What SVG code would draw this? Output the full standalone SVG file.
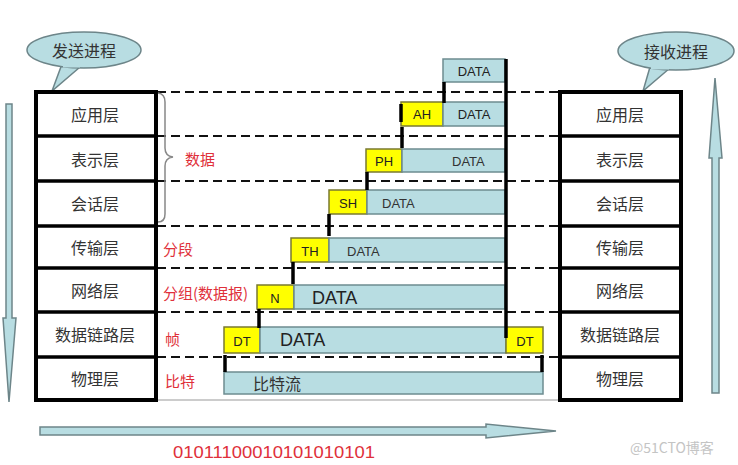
<svg xmlns="http://www.w3.org/2000/svg" width="738" height="465" viewBox="0 0 738 465">
<style>
.lbl{font-family:"Noto Sans CJK SC","Noto Sans",sans-serif;font-size:16px;fill:#333;text-anchor:middle;dominant-baseline:central}
.red{font-family:"Noto Sans CJK SC","Noto Sans",sans-serif;font-size:15px;fill:#e0303a;dominant-baseline:central}
.hd{font-family:"Liberation Sans","Noto Sans",sans-serif;font-size:13px;fill:#222;text-anchor:middle;dominant-baseline:central}
.dt{font-family:"Liberation Sans","Noto Sans",sans-serif;font-size:13px;fill:#333;dominant-baseline:central}
.dtl{font-family:"Liberation Sans","Noto Sans",sans-serif;font-size:18px;fill:#222;dominant-baseline:central}
.data{fill:#b8dde2;stroke:#6d8c90;stroke-width:1.5}
.yel{fill:#ffff00;stroke:#7a7a30;stroke-width:1.5}
.dash{stroke:#111;stroke-width:2;stroke-dasharray:9 5;fill:none}
.blk{stroke:#000;stroke-width:3.5;fill:none}
.frame{fill:#fff;stroke:#000;stroke-width:4}
.arrow{fill:#b8dde2;stroke:#6d8589;stroke-width:1.5}
</style>

<g id="connectors">
  <line class="dash" x1="157" y1="92" x2="559" y2="92"/>
  <line class="dash" x1="157" y1="136" x2="559" y2="136"/>
  <line class="dash" x1="157" y1="181" x2="559" y2="181"/>
  <line class="dash" x1="157" y1="226" x2="559" y2="226"/>
  <line class="dash" x1="157" y1="268" x2="559" y2="268"/>
  <line class="dash" x1="157" y1="312" x2="559" y2="312"/>
  <line class="dash" x1="157" y1="357" x2="559" y2="357"/>
  <line x1="157" y1="400" x2="559" y2="400" stroke="#999" stroke-width="1"/>
</g>

<g id="left-arrow">
  <path class="arrow" d="M6,104 L12,104 L12,318 L16,318 L9,402 L3,318 L6,318 Z"/>
</g>
<g id="right-arrow">
  <path class="arrow" d="M712,393 L719,393 L719,158 L722,158 L715,78 L709,158 L712,158 Z"/>
</g>
<g id="bottom-arrow">
  <path class="arrow" d="M40,427 L486,427 L486,424 L556,431 L486,438 L486,435 L40,435 Z"/>
  <text class="red" x="173" y="452" textLength="202" lengthAdjust="spacingAndGlyphs" style="font-family:'Liberation Sans','Noto Sans',sans-serif;font-size:17px">01011100010101010101</text>
</g>

<g id="send-bubble">
  <path d="M62,64 L52,91 L80,67 Z" fill="#b8dde2" stroke="#6d8589" stroke-width="1.5"/>
  <ellipse cx="84" cy="50" rx="57" ry="18" fill="#b8dde2" stroke="#6d8589" stroke-width="1.5"/>
  <path d="M63,66 L80,66" stroke="#b8dde2" stroke-width="3"/>
  <text class="lbl" x="84" y="50">发送进程</text>
</g>
<g id="recv-bubble">
  <path d="M650,67 L643,91 L670,68 Z" fill="#b8dde2" stroke="#6d8589" stroke-width="1.5"/>
  <ellipse cx="676" cy="51" rx="58" ry="19" fill="#b8dde2" stroke="#6d8589" stroke-width="1.5"/>
  <path d="M651,68 L669,68" stroke="#b8dde2" stroke-width="3"/>
  <text class="lbl" x="676" y="51">接收进程</text>
</g>

<g id="send-stack">
  <rect class="frame" x="36" y="92" width="120" height="308"/>
  <line class="blk" x1="36" y1="136" x2="156" y2="136" stroke-width="4"/>
  <line class="blk" x1="36" y1="181" x2="156" y2="181" stroke-width="4"/>
  <line class="blk" x1="36" y1="226" x2="156" y2="226" stroke-width="4"/>
  <line class="blk" x1="36" y1="268" x2="156" y2="268" stroke-width="4"/>
  <line class="blk" x1="36" y1="312" x2="156" y2="312" stroke-width="4"/>
  <line class="blk" x1="36" y1="357" x2="156" y2="357" stroke-width="4"/>
  <text class="lbl" x="95" y="114">应用层</text>
  <text class="lbl" x="95" y="159">表示层</text>
  <text class="lbl" x="95" y="203">会话层</text>
  <text class="lbl" x="95" y="247">传输层</text>
  <text class="lbl" x="95" y="290">网络层</text>
  <text class="lbl" x="95" y="334">数据链路层</text>
  <text class="lbl" x="95" y="378">物理层</text>
</g>

<g id="recv-stack">
  <rect class="frame" x="560" y="92" width="121" height="308"/>
  <line class="blk" x1="560" y1="136" x2="681" y2="136" stroke-width="4"/>
  <line class="blk" x1="560" y1="181" x2="681" y2="181" stroke-width="4"/>
  <line class="blk" x1="560" y1="226" x2="681" y2="226" stroke-width="4"/>
  <line class="blk" x1="560" y1="268" x2="681" y2="268" stroke-width="4"/>
  <line class="blk" x1="560" y1="312" x2="681" y2="312" stroke-width="4"/>
  <line class="blk" x1="560" y1="357" x2="681" y2="357" stroke-width="4"/>
  <text class="lbl" x="620" y="114">应用层</text>
  <text class="lbl" x="620" y="159">表示层</text>
  <text class="lbl" x="620" y="203">会话层</text>
  <text class="lbl" x="620" y="247">传输层</text>
  <text class="lbl" x="620" y="290">网络层</text>
  <text class="lbl" x="620" y="334">数据链路层</text>
  <text class="lbl" x="620" y="378">物理层</text>
</g>

<g id="brace">
  <path d="M158,93 Q165,94 165,102 L165,148 Q165,156 173,157 Q165,158 165,166 L165,214 Q165,222 158,222" fill="none" stroke="#888" stroke-width="1.5"/>
</g>

<g id="red-labels">
  <text class="red" x="185" y="158">数据</text>
  <text class="red" x="163" y="248">分段</text>
  <text class="red" x="163" y="292">分组(数据报)</text>
  <text class="red" x="165" y="338">帧</text>
  <text class="red" x="165" y="380">比特</text>
</g>

<g id="pdu-app">
  <rect class="data" x="443" y="59" width="62" height="23"/>
  <text class="hd" x="474" y="71" fill="#333">DATA</text>
</g>
<g id="pdu-ah">
  <rect class="yel" x="401" y="102" width="42" height="24"/>
  <text class="hd" x="422" y="114">AH</text>
  <rect class="data" x="443" y="102" width="62" height="24"/>
  <text class="hd" x="474" y="114">DATA</text>
  <line class="blk" x1="444" y1="82" x2="444" y2="103"/>
  <line class="blk" x1="401" y1="104" x2="401" y2="122" stroke-width="2.5"/>
</g>
<g id="pdu-ph">
  <rect class="yel" x="366" y="149" width="36" height="23"/>
  <text class="hd" x="384" y="161">PH</text>
  <rect class="data" x="402" y="149" width="103" height="23"/>
  <text class="dt" x="452" y="161">DATA</text>
  <line class="blk" x1="402" y1="127" x2="402" y2="148"/>
</g>
<g id="pdu-sh">
  <rect class="yel" x="329" y="190" width="38" height="24"/>
  <text class="hd" x="348" y="203">SH</text>
  <rect class="data" x="367" y="190" width="138" height="24"/>
  <text class="dt" x="382" y="203">DATA</text>
  <line class="blk" x1="367" y1="172" x2="367" y2="190"/>
</g>
<g id="pdu-th">
  <rect class="yel" x="291" y="238" width="38" height="24"/>
  <text class="hd" x="310" y="251">TH</text>
  <rect class="data" x="329" y="238" width="176" height="24"/>
  <text class="dt" x="347" y="251">DATA</text>
  <line class="blk" x1="329" y1="214" x2="329" y2="236"/>
</g>
<g id="pdu-n">
  <rect class="yel" x="257" y="285" width="37" height="24"/>
  <text class="hd" x="275" y="298">N</text>
  <rect class="data" x="294" y="285" width="211" height="24"/>
  <text class="dtl" x="312" y="298">DATA</text>
  <line class="blk" x1="293" y1="262" x2="293" y2="284"/>
</g>
<g id="pdu-frame">
  <rect class="yel" x="224" y="327" width="36" height="26"/>
  <text class="hd" x="242" y="341">DT</text>
  <rect class="data" x="260" y="327" width="246" height="26"/>
  <text class="dtl" x="280" y="340">DATA</text>
  <rect class="yel" x="506" y="327" width="37" height="26"/>
  <text class="hd" x="525" y="341">DT</text>
  <line class="blk" x1="259" y1="309" x2="259" y2="328"/>
</g>
<g id="bitstream">
  <rect class="data" x="224" y="372" width="319" height="22"/>
  <text class="dt" x="253" y="383" style="font-family:'Noto Sans CJK SC','Noto Sans',sans-serif;font-size:16px">比特流</text>
  <line class="blk" x1="225" y1="355" x2="225" y2="372"/>
  <line class="blk" x1="542" y1="355" x2="542" y2="372"/>
</g>
<g id="spine">
  <line class="blk" x1="506" y1="59" x2="506" y2="338"/>
</g>
<text x="630" y="447" dominant-baseline="central" style="font-family:'Noto Sans CJK SC','Noto Sans',sans-serif;font-size:14px;fill:#c4c4c4">@51CTO博客</text>
</svg>
